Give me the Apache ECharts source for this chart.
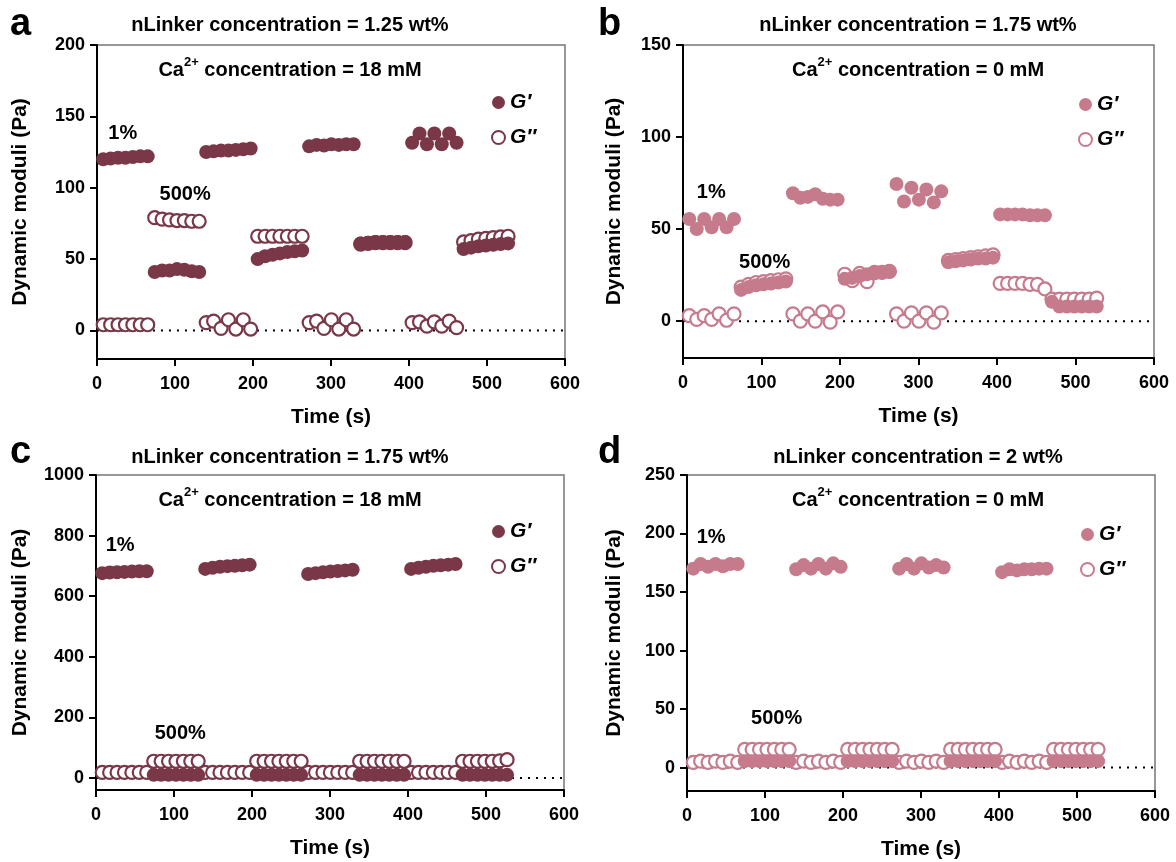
<!DOCTYPE html>
<html>
<head>
<meta charset="utf-8">
<script src="https://cdn.jsdelivr.net/npm/echarts@6/dist/echarts.min.js"></script>
<style>
html,body{margin:0;padding:0;background:#fff;}
#chart{width:1176px;height:862px;}
</style>
</head>
<body>
<div id="chart"></div>
<script>
// ---------------- data ----------------
const time = [8,17.5,27,36.5,46,55.5,65, 74,83.5,93,102.5,112,121.5,131, 140,149.5,159,168.5,178,187.5,197,
  206,215.5,225,234.5,244,253.5,263, 272,281.5,291,300.5,310,319.5,329, 338,347.5,357,366.5,376,385.5,395,
  404,413.5,423,432.5,442,451.5,461, 470,479.5,489,498.5,508,517.5,527];

const aGp  = [120,120.5,121,121,121.5,122,122, 41,42,42,43,42.5,41.5,41, 125,125.5,126,126,126.5,127,127.5,
  50,52,53,54,55,55.5,56, 129,130,129.5,130.5,130,130.5,130.5, 61,61.5,62,62,62,62,62,
  131.5,138,130.5,138,130.5,138,131.5, 57,58,59,59.5,60,60.5,61];
const aGpp = [4,4,4,4,4,4,4, 79,78,77.5,77,77,76.5,76.5, 5.5,6.5,1.5,7.5,1,7.5,1,
  66,66,66,66,66,66,66, 5.5,6.5,1.5,7.5,1,7.5,1, 60.5,61,61.5,61.5,61.5,61.5,61.5,
  5.5,6,3,6,3,6.5,2, 62,63,64,64.5,65,65.5,66];

const bGp  = [55.5,50,55.5,51,55.5,51,55.5, 17,18.5,19.5,20,20.5,21,21.5, 69.5,67,67.5,69,66.5,66,66,
  23,23.5,24.5,25.5,26,26.5,27, 74.5,65,72.5,66,71.5,64.5,70.5, 32,32.5,33,33.5,34,34,34.5,
  58,58,58,58,57.5,57.5,57.5, 10.5,8,8,8,8,8,8];
const bGpp = [3,1,3,1,4,0.5,4, 18.5,20,21,21.5,22,22.5,23, 4,0,4,0,5,-0.5,5,
  25.5,22,26,21.5,26.5,26.5,27, 4,0,4.5,0,4.5,-0.5,4.5, 33,33.5,34,34.5,35,35.5,36,
  20.5,20.5,20.5,20.5,20,20,17.5, 12,12,12,12,12,12,12.5];

const cGp  = [676,678,679,680,681,682,682, 10,10,10,10,10,10,10, 690,694,697,699,700,702,704,
  10,10,10,10,10,10,10, 673,676,679,681,683,685,687, 10,10,10,10,10,10,10,
  690,694,697,700,702,704,706, 10,10,10,10,10,10,10];
const cGpp = [18,18,18,18,18,18,18, 55,55,55,55,55,55,55, 18,18,18,18,18,18,18,
  55,55,55,55,55,55,55, 18,18,18,18,18,18,18, 55,55,55,55,55,55,55,
  18,18,18,18,18,18,18, 55,55,55,55,55,56,60];

const dGp  = [170,174,171.5,174,172,174,174, 5.5,5.5,5.5,5.5,5.5,5.5,5.5, 169.5,173,170,174,170,174.5,171.5,
  5.5,5.5,5.5,5.5,5.5,5.5,5.5, 170,174,170,174.5,171,173,171, 5.5,5.5,5.5,5.5,5.5,5.5,5.5,
  167,169.5,168.5,169.5,169.5,170,170, 5.5,5.5,5.5,5.5,5.5,5.5,5.5];
const dGpp = [4.5,5.5,4.5,5.5,4.5,5.5,4.5, 15.5,15.5,15.5,15.5,15.5,15.5,15.5, 4.5,5.5,4.5,5.5,4.5,5.5,4.5,
  15.5,15.5,15.5,15.5,15.5,15.5,15.5, 4.5,5.5,4.5,5.5,4.5,5.5,4.5, 15.5,15.5,15.5,15.5,15.5,15.5,15.5,
  4.5,5.5,4.5,5.5,4.5,5.5,4.5, 15.5,15.5,15.5,15.5,15.5,15.5,15.5];

const xTicks = [0,100,200,300,400,500,600];
const yTicksA = [0,50,100,150,200];
const yTicksB = [0,50,100,150];
const yTicksC = [0,200,400,600,800,1000];
const yTicksD = [0,50,100,150,200,250];

const panelLetters = ['a','b','c','d'];
const topTitles = ['nLinker concentration = 1.25 wt%','nLinker concentration = 1.75 wt%',
                   'nLinker concentration = 1.75 wt%','nLinker concentration = 2 wt%'];
const caValues = ['18','0','18','0'];
// annotation labels [time, modulus, text]
const annA = [[33,138,'1%'],[113,95,'500%']];
const annB = [[36,70,'1%'],[104,32,'500%']];
const annC = [[31,766,'1%'],[108,145,'500%']];
const annD = [[31,197,'1%'],[115,42,'500%']];

// ---------------- layout/styles ----------------
const FONT = 'Liberation Sans, Arial, Helvetica, sans-serif';
const MAROON = '#7a3748';
const PINK = '#c67b8d';

const panels = [
  {id:'a', grid:{left:97, top:45, width:468, height:314}, ymin:-20, ymax:200, ticks:yTicksA, gp:aGp, gpp:aGpp, color:MAROON, ann:annA,
   legend:{left:491, top:92}, nameGapY:66, titleX:290, titleY:15, caY:56},
  {id:'b', grid:{left:683, top:45, width:471, height:313}, ymin:-20, ymax:150, ticks:yTicksB, gp:bGp, gpp:bGpp, color:PINK, ann:annB,
   legend:{left:1078, top:94}, nameGapY:58, titleX:918, titleY:15, caY:56},
  {id:'c', grid:{left:96, top:475, width:468, height:315}, ymin:-40, ymax:1000, ticks:yTicksC, gp:cGp, gpp:cGpp, color:MAROON, ann:annC,
   legend:{left:491, top:521}, nameGapY:65, titleX:290, titleY:447, caY:486},
  {id:'d', grid:{left:687, top:475, width:468, height:316}, ymin:-20, ymax:250, ticks:yTicksD, gp:dGp, gpp:dGpp, color:PINK, ann:annD,
   legend:{left:1080, top:524}, nameGapY:62, titleX:918, titleY:447, caY:486}
];

const grids = [], xAxes = [], yAxes = [], series = [], legends = [], titles = [];

panels.forEach((p, i) => {
  grids.push(Object.assign({show:true, borderColor:'#777', borderWidth:1.5, backgroundColor:'transparent'}, p.grid));
  xAxes.push({
    type:'value', gridIndex:i, min:0, max:600, interval:100,
    axisLine:{show:true, onZero:false, lineStyle:{color:'#000', width:2}},
    axisTick:{show:true, length:7, lineStyle:{color:'#000', width:2}},
    axisLabel:{color:'#000', fontFamily:FONT, fontWeight:'bold', fontSize:18, margin:16,
      customValues: xTicks, formatter:(v)=>String(v)},
    splitLine:{show:false},
    name:'Time (s)', nameLocation:'middle', nameGap:48,
    nameTextStyle:{color:'#000', fontFamily:FONT, fontWeight:'bold', fontSize:21}
  });
  yAxes.push({
    type:'value', gridIndex:i, min:p.ymin, max:p.ymax,
    axisLine:{show:true, onZero:false, lineStyle:{color:'#000', width:2}},
    axisTick:{show:true, length:7, lineStyle:{color:'#000', width:2}, customValues:p.ticks},
    axisLabel:{color:'#000', fontFamily:FONT, fontWeight:'bold', fontSize:18, margin:12, customValues:p.ticks,
      formatter:(v)=>String(v)},
    splitLine:{show:false},
    name:'Dynamic moduli (Pa)', nameLocation:'middle', nameGap:p.nameGapY,
    nameTextStyle:{color:'#000', fontFamily:FONT, fontWeight:'bold', fontSize:21}
  });
  const zeroLine = [[0,0],[600,0]];
  series.push({
    type:'line', name:'zero '+p.id, xAxisIndex:i, yAxisIndex:i, data:zeroLine,
    showSymbol:false, silent:true, z:1,
    lineStyle:{color:'#000', width:2, type:[2,6]}
  });
  series.push({
    type:'scatter', name:'G″ '+p.id, xAxisIndex:i, yAxisIndex:i, z:2,
    data: time.map((t,k)=>[t, p.gpp[k]]),
    symbol:'circle', symbolSize:13,
    itemStyle:{color:'#fff', borderColor:p.color, borderWidth:2.2, opacity:1}
  });
  series.push({
    type:'scatter', name:'G′ '+p.id, xAxisIndex:i, yAxisIndex:i, z:3,
    data: time.map((t,k)=>[t, p.gp[k]]),
    symbol:'circle', symbolSize:14,
    itemStyle:{color:p.color, opacity:1}
  });
  series.push({
    type:'scatter', name:'ann '+p.id, xAxisIndex:i, yAxisIndex:i, z:4, silent:true,
    data: p.ann, symbolSize:0, itemStyle:{opacity:1},
    label:{show:true, position:'inside', formatter:(q)=>q.value[2], color:'#000', opacity:1,
      fontFamily:FONT, fontWeight:'bold', fontSize:20}
  });
  legends.push({
    data:['G′ '+p.id, 'G″ '+p.id], orient:'vertical', left:p.legend.left, top:p.legend.top,
    itemWidth:13, itemHeight:13, itemGap:14, icon:'circle', selectedMode:false, padding:0,
    formatter:(name)=>name.split(' ')[0],
    textStyle:{color:'#000', fontFamily:FONT, fontWeight:'bold', fontStyle:'italic', fontSize:21}
  });
  titles.push({
    text: topTitles[i], left:p.titleX, top:p.titleY, textAlign:'center', padding:0,
    textStyle:{color:'#000', fontFamily:FONT, fontWeight:'bold', fontSize:20}
  });
  titles.push({
    text: '{n|Ca}{s|2+}{n| concentration = ' + caValues[i] + ' mM}', left:p.titleX, top:p.caY, textAlign:'center', padding:0,
    textStyle:{rich:{
      n:{color:'#000', fontFamily:FONT, fontWeight:'bold', fontSize:20, verticalAlign:'bottom', lineHeight:24},
      s:{color:'#000', fontFamily:FONT, fontWeight:'bold', fontSize:13, verticalAlign:'top', lineHeight:24, padding:[0,0,6,0]}
    }}
  });
});

const letterPos = [[10,6],[598,6],[10,434],[598,434]];
panelLetters.forEach((l,i)=>{
  titles.push({text:l, left:letterPos[i][0], top:letterPos[i][1], padding:0,
    textStyle:{color:'#000', fontFamily:FONT, fontWeight:'bold', fontSize:38}});
});

const chart = echarts.init(document.getElementById('chart'), null, {renderer:'canvas'});
chart.setOption({
  animation:false,
  backgroundColor:'#fff',
  title: titles,
  legend: legends,
  grid: grids,
  xAxis: xAxes,
  yAxis: yAxes,
  series: series
});
</script>
</body>
</html>
